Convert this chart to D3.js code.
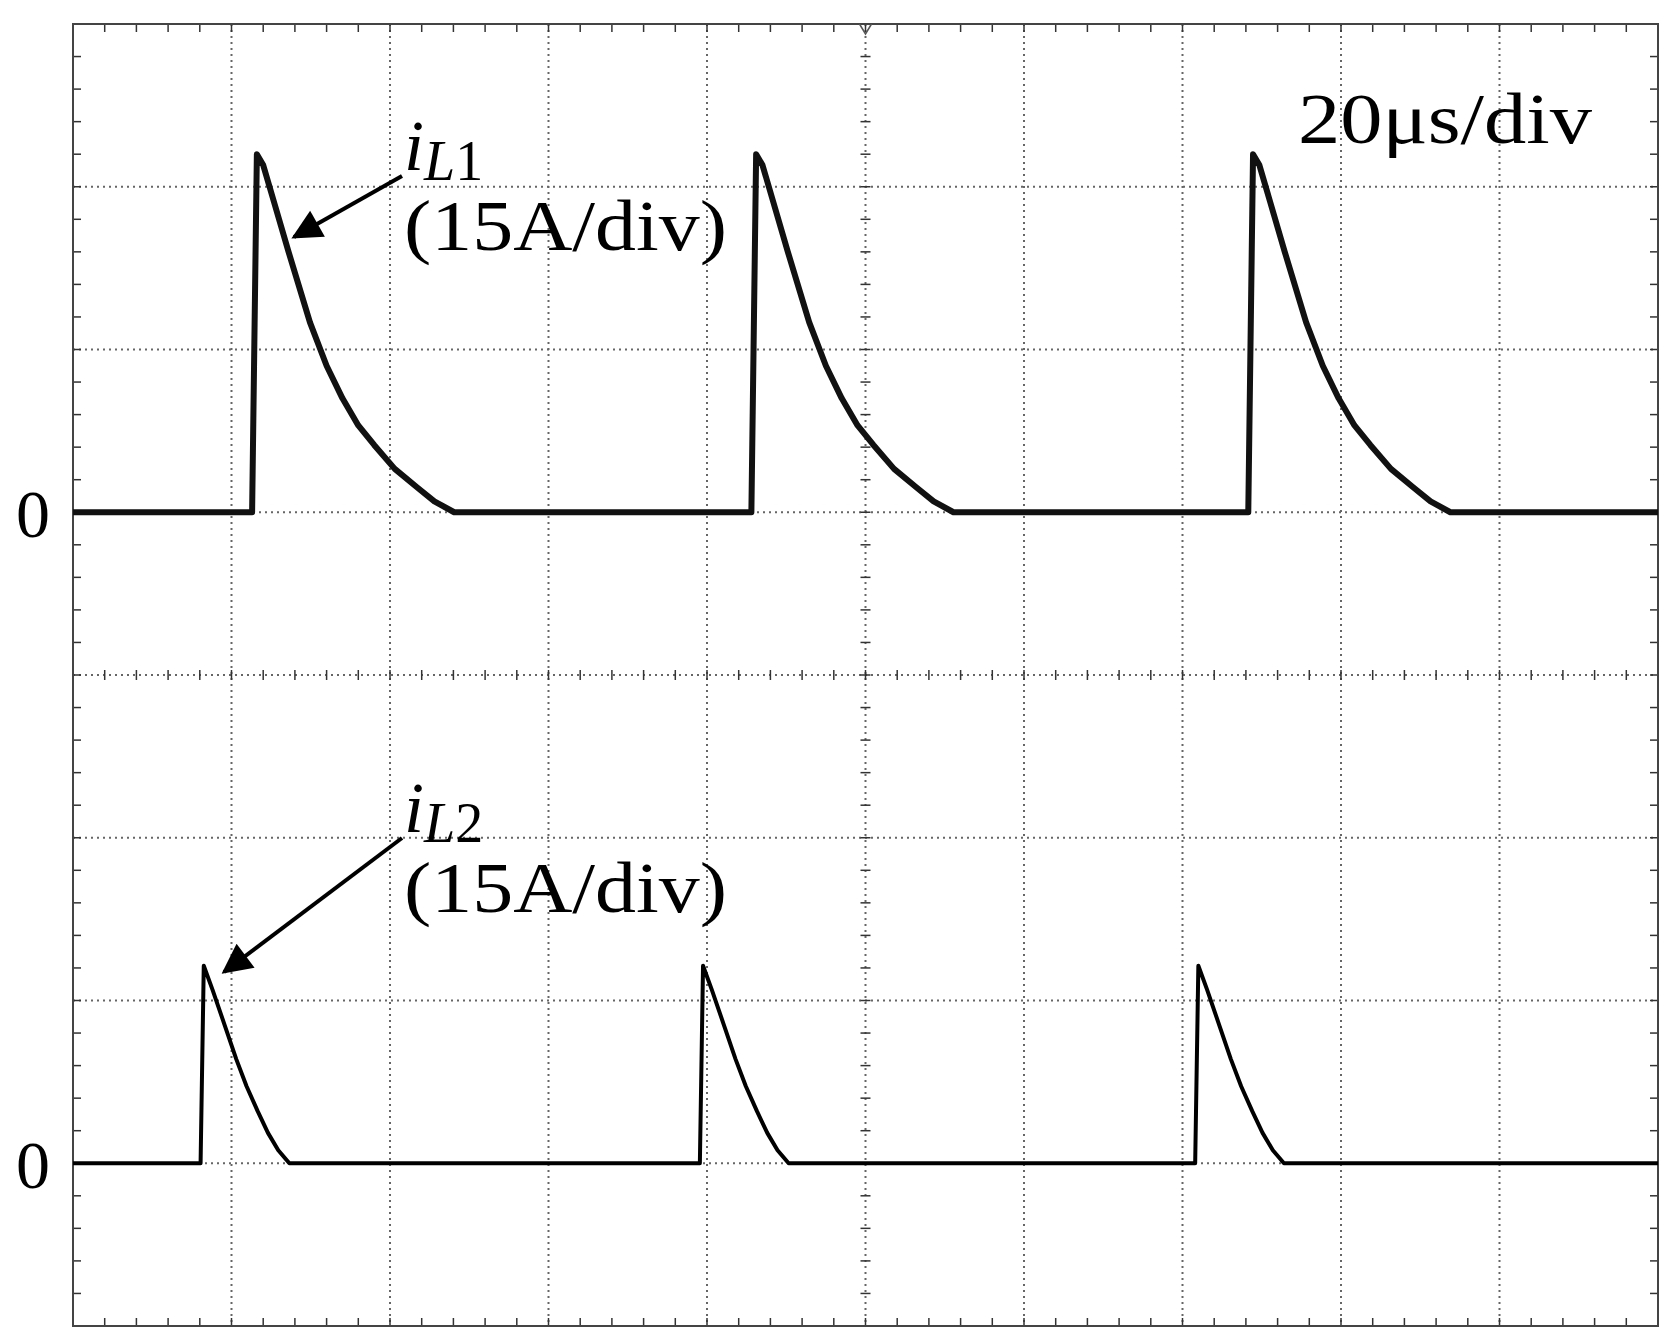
<!DOCTYPE html>
<html>
<head>
<meta charset="utf-8">
<script src="https://cdn.jsdelivr.net/npm/d3@7"></script>
<style>
body { margin: 0; background: #fff; }
text { font-family: "Times New Roman", "Liberation Serif", Tinos, serif; fill: #000; }
</style>
</head>
<body>
<script>
// time in microseconds, 20us/div, 10 divisions
var timeDomain = [0, 200];
// iL1 pulse: start times (us) and decay shape [offset us, A]
var il1Starts = [22.6, 85.6, 148.3];
var il1Shape = [[0, 0], [0.6, 33], [1.4, 32], [2.8, 28.5], [4.6, 24], [7.3, 17.5], [9.4, 13.5], [11.4, 10.5], [13.4, 8], [15.4, 6.2], [18, 4], [20.8, 2.3], [23, 1], [25.5, 0]];
var il2Starts = [16.1, 79.1, 141.6];
var il2Shape = [[0, 0], [0.4, 18.2], [1.5, 16], [3.1, 12.6], [4.5, 9.6], [5.8, 7.1], [7.2, 4.8], [8.5, 2.8], [9.8, 1.2], [11.2, 0]];
var ampPerDiv = 15;

var W = 1668, H = 1336;
var pL = 73, pR = 1658, pT = 24, pB = 1326;
var svg = d3.select("body").append("svg").attr("width", W).attr("height", H);

var x = d3.scaleLinear().domain(timeDomain).range([pL, pR]);
var yDiv = d3.scaleLinear().domain([0, 8]).range([pB, pT]); // divisions from bottom
var zero1 = 5, zero2 = 1; // iL1 zero at div 5, iL2 at div 1

// grid
var g = svg.append("g");
d3.range(1, 10).forEach(function (i) {
  g.append("line").attr("x1", x(i * 20)).attr("x2", x(i * 20)).attr("y1", pT).attr("y2", pB)
    .attr("stroke", "#666").attr("stroke-width", 2).attr("stroke-dasharray", "2,4");
});
d3.range(1, 8).forEach(function (i) {
  g.append("line").attr("y1", yDiv(i)).attr("y2", yDiv(i)).attr("x1", pL).attr("x2", pR)
    .attr("stroke", "#666").attr("stroke-width", 2).attr("stroke-dasharray", "2,4");
});
// minor ticks
var tl = 8;
d3.range(0, 50.01, 1).forEach(function (k) {
  var xx = x(k * 4);
  g.append("line").attr("x1", xx).attr("x2", xx).attr("y1", pT).attr("y2", pT + tl).attr("stroke", "#333").attr("stroke-width", 1.5);
  g.append("line").attr("x1", xx).attr("x2", xx).attr("y1", pB).attr("y2", pB - tl).attr("stroke", "#333").attr("stroke-width", 1.5);
  g.append("line").attr("x1", xx).attr("x2", xx).attr("y1", yDiv(4) - 5).attr("y2", yDiv(4) + 5).attr("stroke", "#333").attr("stroke-width", 1.5);
});
d3.range(0, 40.01, 1).forEach(function (k) {
  var yy = yDiv(k / 5);
  g.append("line").attr("y1", yy).attr("y2", yy).attr("x1", pL).attr("x2", pL + tl).attr("stroke", "#333").attr("stroke-width", 1.5);
  g.append("line").attr("y1", yy).attr("y2", yy).attr("x1", pR).attr("x2", pR - tl).attr("stroke", "#333").attr("stroke-width", 1.5);
  g.append("line").attr("y1", yy).attr("y2", yy).attr("x1", x(100) - 5).attr("x2", x(100) + 5).attr("stroke", "#333").attr("stroke-width", 1.5);
});
svg.append("rect").attr("x", pL).attr("y", pT).attr("width", pR - pL).attr("height", pB - pT)
  .attr("fill", "none").attr("stroke", "#444").attr("stroke-width", 2);
// trigger marker
svg.append("path").attr("d", "M" + (x(100) - 6) + "," + pT + " L" + x(100) + "," + (pT + 10) + " L" + (x(100) + 6) + "," + pT)
  .attr("fill", "none").attr("stroke", "#555").attr("stroke-width", 1.5);

function buildTrace(starts, shape) {
  var pts = [[timeDomain[0], 0]];
  starts.forEach(function (s) {
    shape.forEach(function (p) { pts.push([s + p[0], p[1]]); });
  });
  pts.push([timeDomain[1], 0]);
  return pts;
}
function traceLine(zero) {
  return d3.line().x(function (d) { return x(d[0]); })
    .y(function (d) { return yDiv(zero + d[1] / ampPerDiv); });
}
svg.append("path").datum(buildTrace(il1Starts, il1Shape)).attr("d", traceLine(zero1))
  .attr("fill", "none").attr("stroke", "#111").attr("stroke-width", 6).attr("stroke-linejoin", "round");
svg.append("path").datum(buildTrace(il2Starts, il2Shape)).attr("d", traceLine(zero2))
  .attr("fill", "none").attr("stroke", "#000").attr("stroke-width", 4).attr("stroke-linejoin", "round");

// labels
svg.append("text").attr("x", 16).attr("y", yDiv(zero1) + 25).attr("font-size", 68).text("0");
svg.append("text").attr("x", 16).attr("y", yDiv(zero2) + 25).attr("font-size", 68).text("0");
svg.append("text").attr("x", 1298).attr("y", 143).attr("font-size", 72)
  .attr("textLength", 294).attr("lengthAdjust", "spacingAndGlyphs").text("20μs/div");

svg.append("defs").append("marker").attr("id", "ah").attr("viewBox", "0 0 10 10").attr("refX", 9).attr("refY", 5)
  .attr("markerWidth", 38).attr("markerHeight", 30).attr("markerUnits", "userSpaceOnUse")
  .attr("orient", "auto").append("path").attr("d", "M0,0 L10,5 L0,10 z");

function label(tx, ty, sub, ax, ay) {
  var t = svg.append("text").attr("x", tx).attr("y", ty).attr("font-size", 72);
  t.append("tspan").attr("font-style", "italic").text("i");
  t.append("tspan").attr("font-style", "italic").attr("font-size", 56).attr("dy", 10).text("L");
  t.append("tspan").attr("font-size", 56).text(sub);
  svg.append("text").attr("x", tx).attr("y", ty + 80).attr("font-size", 72)
    .attr("textLength", 323).attr("lengthAdjust", "spacingAndGlyphs").text("(15A/div)");
  svg.append("line").attr("x1", tx - 2).attr("y1", ty + 6).attr("x2", ax).attr("y2", ay)
    .attr("stroke", "#000").attr("stroke-width", 4).attr("marker-end", "url(#ah)");
}
label(404, 170, "1", 294, 237);
label(404, 832, "2", 224, 972);
</script>
</body>
</html>
